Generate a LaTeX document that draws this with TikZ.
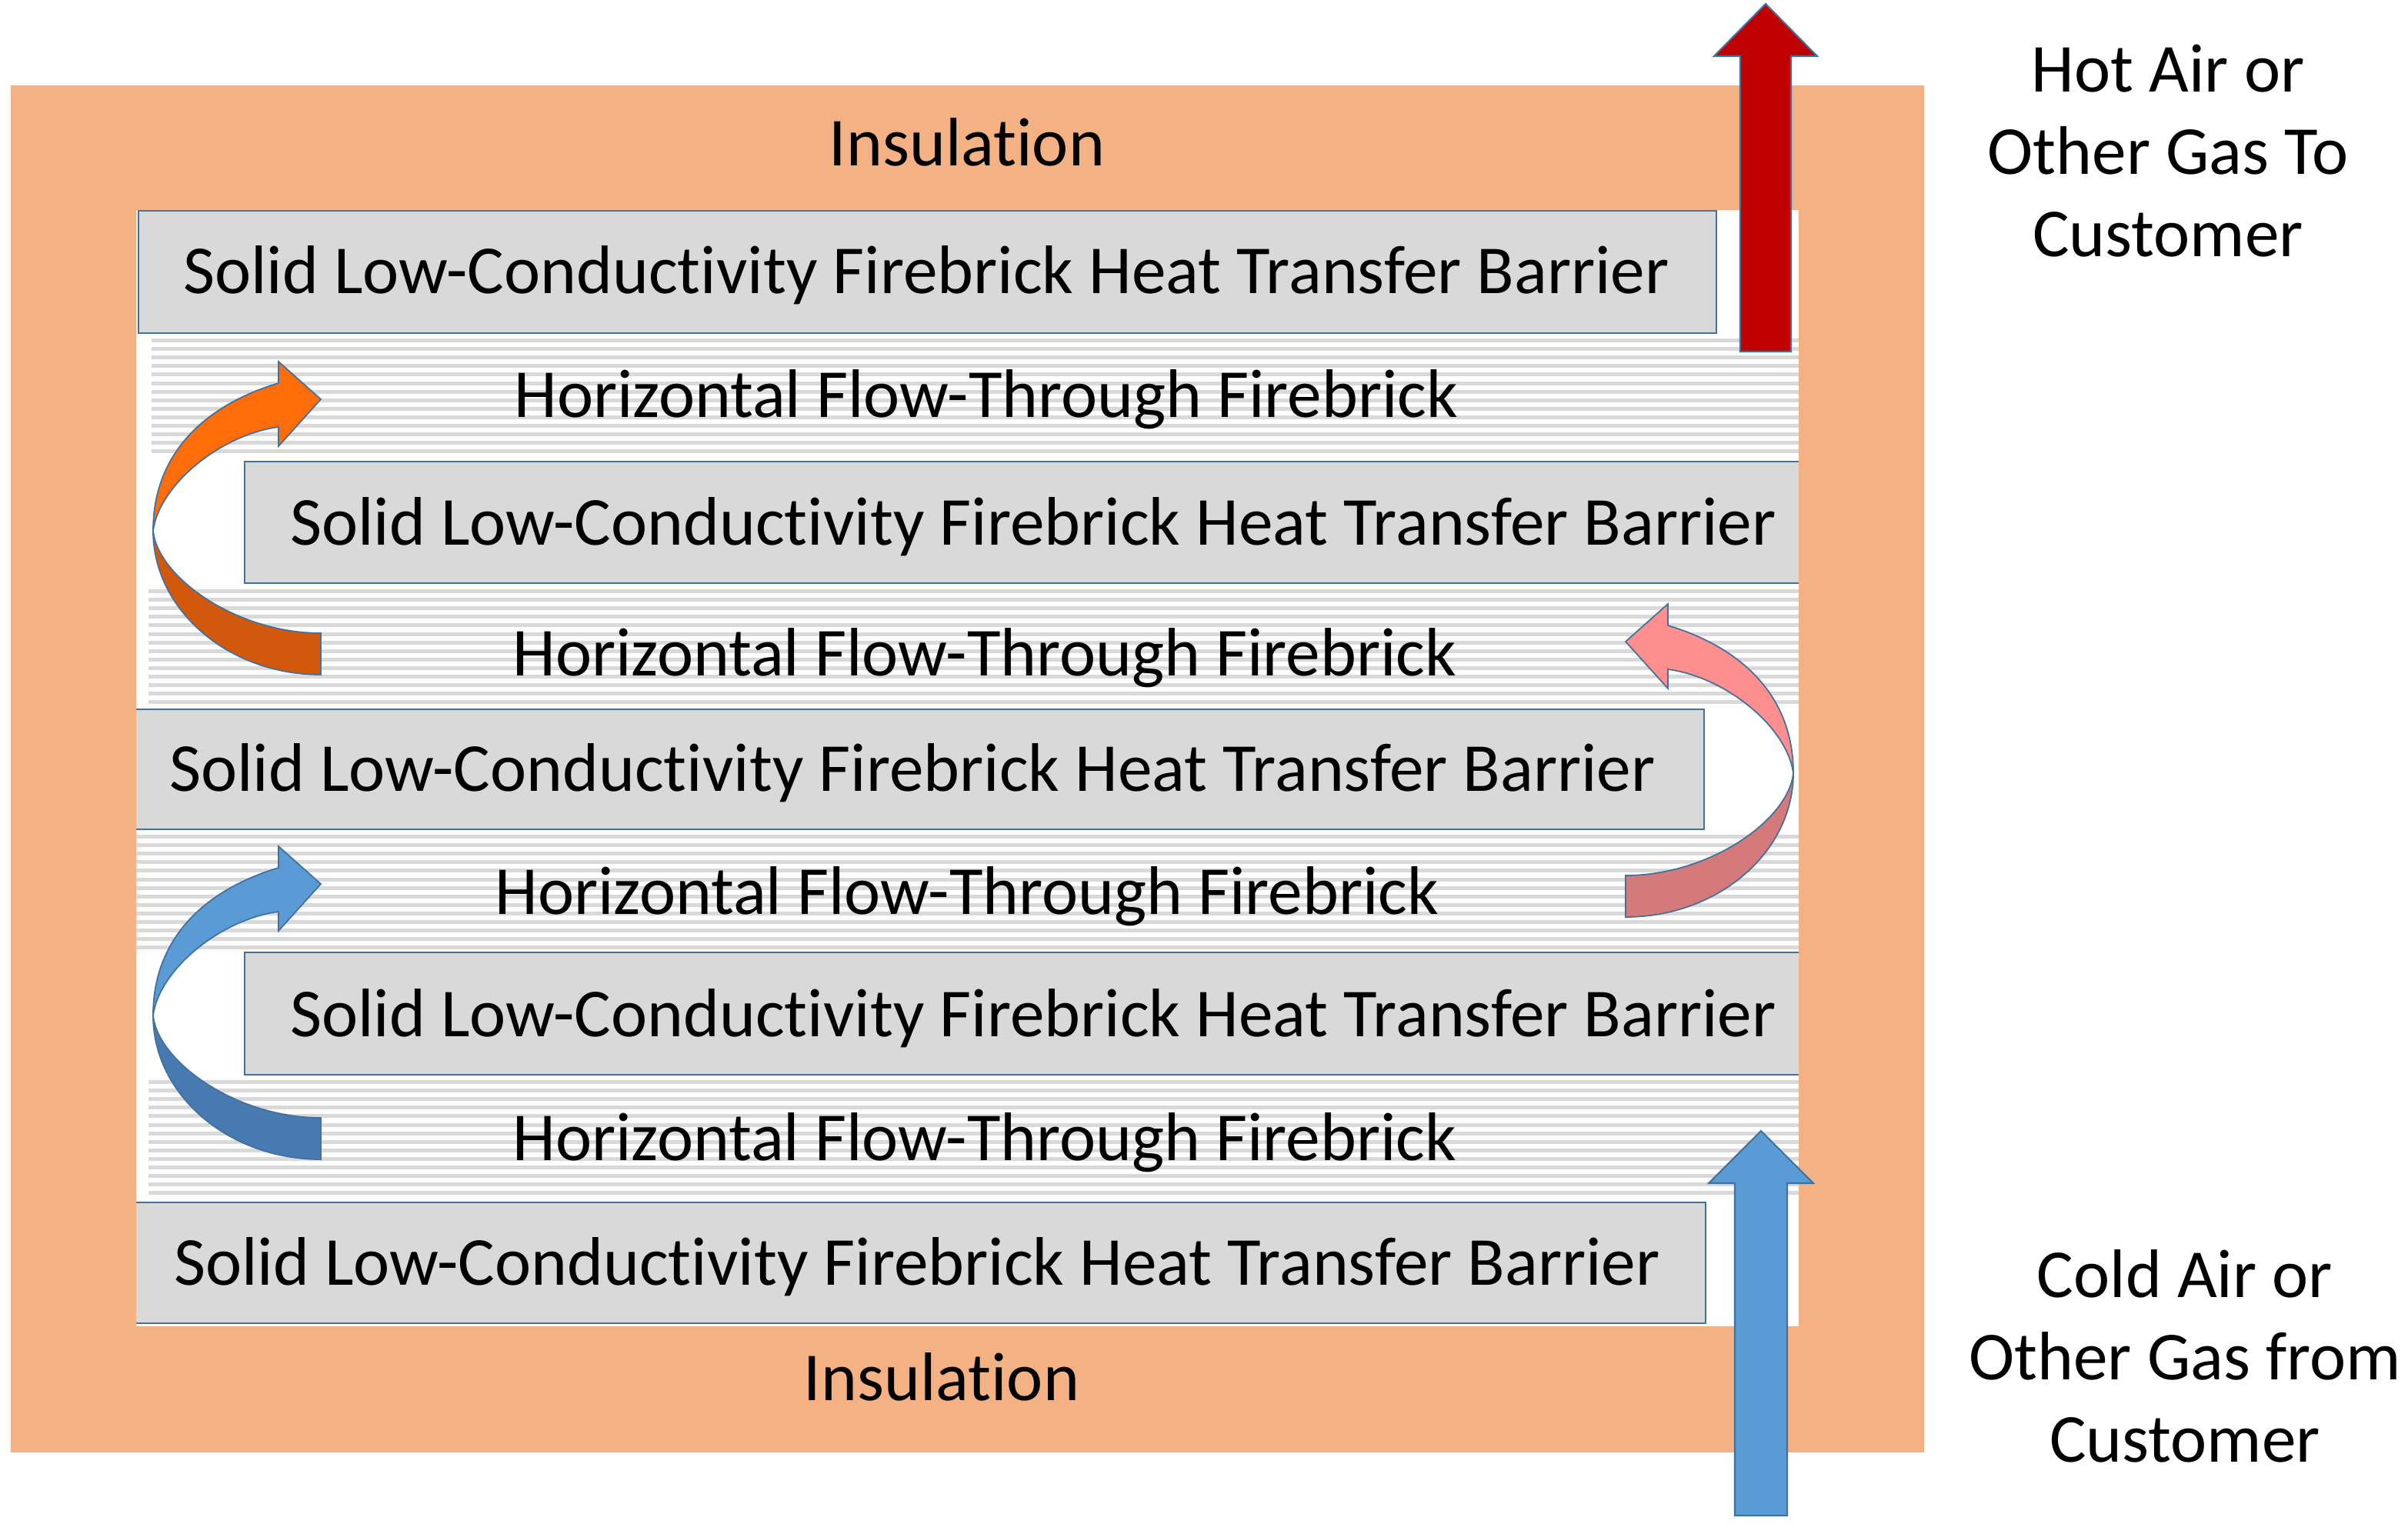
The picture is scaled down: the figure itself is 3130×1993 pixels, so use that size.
\documentclass[tikz,border=0pt]{standalone}
\usepackage{fontspec}
\setmainfont{Carlito}[Ligatures=NoCommon]
\definecolor{insul}{HTML}{F4B183}
\definecolor{brick}{HTML}{D9D9D9}
\definecolor{edgeblue}{HTML}{41719C}
\definecolor{hotred}{HTML}{C00000}
\definecolor{coldblue}{HTML}{5B9BD5}
\definecolor{orfront}{HTML}{FF6C0A}
\definecolor{orback}{HTML}{D2590C}
\definecolor{blfront}{HTML}{5B9BD5}
\definecolor{blback}{HTML}{477AB0}
\definecolor{pkfront}{HTML}{FF8F8F}
\definecolor{pkback}{HTML}{D47A7A}
\newcommand{\curvedarrowshape}[2]{%
  \filldraw[fill=#2, draw=edgeblue, line width=0.5pt] (0,133) .. controls (-110,133) and (-212,60) .. (-218,0) .. controls (-218,103) and (-120,187) .. (0,187) -- cycle;
  \filldraw[fill=#1, draw=edgeblue, line width=0.5pt] (-218,0) .. controls (-218,-105) and (-145,-165) .. (-55,-192) -- (-55,-220) -- (0,-171) -- (-55,-110) -- (-55,-135) .. controls (-130,-125) and (-210,-60) .. (-218,0) -- cycle;}
\newcommand{\brickstripes}[4]{%
  \foreach \k in {1,...,#4}{\fill[brick] (#1,{#3+(\k-1)*11.1}) rectangle (#2,{#3+(\k-1)*11.1+5});}}
\tikzset{
  txt/.style={font=\fontsize{25.4pt}{30.4pt}\selectfont, inner sep=0pt, anchor=base, text=black},
  barrier/.style={fill=brick, draw=edgeblue, line width=0.8pt},
  straightarrow/.style={draw=edgeblue, line width=0.6pt},
}
\begin{document}
\begin{tikzpicture}[x=0.01cm, y=-0.01cm]
\useasboundingbox (0,0) rectangle (3130,1993);
\fill[white] (0,0) rectangle (3130,1993);
% inner white core
\fill[white] (177,273) rectangle (2338,1724);
% flow-through firebrick stripes
\brickstripes{197}{2338}{440}{14}
\brickstripes{193}{2338}{766}{14}
\brickstripes{177}{2338}{1085}{14}
\brickstripes{193}{2338}{1404}{14}
% barriers
\draw[barrier] (180,274) rectangle (2231,433);
\draw[barrier] (318,600) rectangle (2350,758);
\draw[barrier] (165,922) rectangle (2215,1078);
\draw[barrier] (318,1238) rectangle (2350,1397);
\draw[barrier] (165,1563) rectangle (2217,1720);
% insulation frame
\fill[insul, even odd rule] (14,111) rectangle (2501,1888) (177,273) rectangle (2338,1724);
% texts
\node[txt] (ins1) at (1257,215) {Insulation};
\node[txt] (ins2) at (1224,1820) {Insulation};
\node[txt] (b1) at (1204,381) {Solid Low-Conductivity Firebrick Heat Transfer Barrier};
\node[txt] (b2) at (1343,708) {Solid Low-Conductivity Firebrick Heat Transfer Barrier};
\node[txt] (b3) at (1186,1028) {Solid Low-Conductivity Firebrick Heat Transfer Barrier};
\node[txt] (b4) at (1343,1347) {Solid Low-Conductivity Firebrick Heat Transfer Barrier};
\node[txt] (b5) at (1192,1670) {Solid Low-Conductivity Firebrick Heat Transfer Barrier};
\node[txt] (f1) at (1282,542) {Horizontal Flow-Through Firebrick};
\node[txt] (f2) at (1280,878) {Horizontal Flow-Through Firebrick};
\node[txt] (f3) at (1257,1188) {Horizontal Flow-Through Firebrick};
\node[txt] (f4) at (1280,1508) {Horizontal Flow-Through Firebrick};
\node[txt] (hot1) at (2818,119) {Hot Air or};
\node[txt] (hot2) at (2818,226) {Other Gas To};
\node[txt] (hot3) at (2818,333) {Customer};
\node[txt] (cold1) at (2840,1686) {Cold Air or};
\node[txt] (cold2) at (2840,1793) {Other Gas from};
\node[txt] (cold3) at (2840,1900) {Customer};
% curved arrows
\begin{scope}[shift={(417,690)}]
  \curvedarrowshape{orfront}{orback}
\end{scope}
\begin{scope}[shift={(417,1320)}]
  \curvedarrowshape{blfront}{blback}
\end{scope}
\begin{scope}[shift={(2113,1005)}, xscale=-1]
  \curvedarrowshape{pkfront}{pkback}
\end{scope}
% straight arrows
\filldraw[straightarrow, fill=hotred] (2262,457) -- (2262,73) -- (2228,73) -- (2295,5) -- (2362,73) -- (2328,73) -- (2328,457) -- cycle;
\filldraw[straightarrow, fill=coldblue] (2255,1970) -- (2255,1538) -- (2221,1538) -- (2289,1470) -- (2357,1538) -- (2323,1538) -- (2323,1970) -- cycle;
\end{tikzpicture}
\end{document}
